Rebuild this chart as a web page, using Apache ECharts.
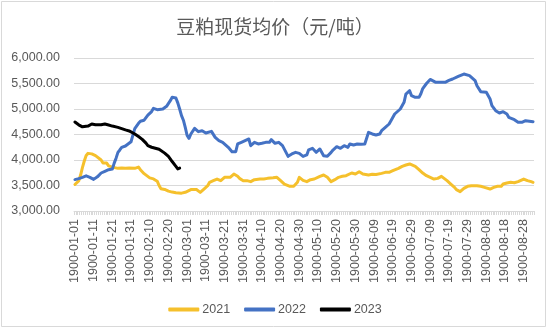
<!DOCTYPE html>
<html>
<head>
<meta charset="utf-8">
<script src="https://cdn.jsdelivr.net/npm/echarts@6/dist/echarts.min.js"></script>
<style>
html,body{margin:0;padding:0;background:#fff;}
#chart{width:550px;height:330px;}
</style>
</head>
<body>
<div id="chart"></div>
<script>
// Excel-style 1900 calendar (includes fictitious 1900-02-29)
const monthLengths = [31, 29, 31, 30, 31, 30, 31, 31, 31];
const dayCount = 246;
const categories = [];
(function () {
  let m = 0, d = 1;
  for (let i = 0; i < dayCount; i++) {
    categories.push('1900-' + String(m + 1).padStart(2, '0') + '-' + String(d).padStart(2, '0'));
    d++;
    if (d > monthLengths[m]) { d = 1; m++; }
  }
})();

const yTicks = [3000, 3500, 4000, 4500, 5000, 5500, 6000];

const days2021 = [0,2,3,4,5,6,7,9,11,12,14,15,16,17,18,20,21,23,25,27,29,30,32,34,35,37,38,40,42,44,45,46,48,50,52,54,55,57,58,59,60,62,63,65,67,69,71,72,74,76,78,80,81,83,85,87,88,90,92,94,96,97,99,101,103,104,106,108,110,112,113,115,117,119,120,121,122,124,126,128,129,131,133,135,137,138,139,141,143,145,146,148,150,152,154,155,157,159,161,162,164,166,168,170,171,173,175,177,179,180,182,184,186,188,190,192,194,196,197,199,201,203,204,206,208,210,212,213,215,217,219,220,222,224,226,228,229,231,233,235,237,238,240,242,244,245];
const vals2021 = [3520,3590,3700,3850,3980,4090,4130,4120,4085,4055,4000,3940,3905,3940,3885,3860,3842,3836,3842,3836,3842,3823,3836,3861,3810,3732,3694,3649,3629,3584,3500,3436,3423,3390,3371,3358,3378,3350,3380,3366,3333,3420,3400,3420,3366,3431,3497,3562,3595,3627,3595,3660,3693,3660,3725,3680,3640,3595,3595,3575,3614,3595,3627,3627,3640,3660,3650,3660,3595,3529,3497,3484,3484,3562,3660,3680,3600,3575,3614,3627,3660,3680,3706,3660,3575,3549,3614,3660,3680,3693,3706,3745,3725,3771,3725,3693,3706,3719,3715,3725,3738,3758,3758,3791,3810,3837,3876,3902,3922,3922,3876,3810,3745,3693,3660,3627,3640,3680,3660,3595,3529,3464,3418,3379,3444,3484,3497,3497,3497,3484,3464,3444,3431,3464,3484,3484,3529,3549,3562,3555,3575,3614,3627,3595,3575,3562];

const days2022 = [0,2,4,6,7,8,10,12,14,16,18,20,21,22,23,24,25,27,28,30,31,32,34,35,37,39,41,42,44,45,47,49,51,52,53,54,55,56,57,58,59,60,61,62,64,66,68,70,71,73,75,77,79,80,82,84,86,87,89,91,93,94,95,96,98,100,102,104,105,107,109,111,112,114,116,118,120,122,124,125,127,129,131,133,135,137,138,140,142,144,146,147,149,151,153,155,156,157,159,161,163,164,166,168,169,171,172,174,176,177,179,180,182,184,185,186,188,190,193,196,198,200,202,205,208,209,211,214,215,217,220,222,223,225,227,229,231,232,235,237,239,241,242,245];
const vals2022 = [3616,3635,3660,3690,3694,3660,3620,3670,3745,3778,3810,3823,3939,4036,4150,4197,4248,4274,4261,4358,4487,4616,4720,4760,4780,4880,4950,5013,4987,4967,5000,5052,5163,5230,5240,5215,5120,5000,4869,4780,4640,4480,4425,4510,4621,4556,4575,4529,4556,4562,4444,4379,4346,4314,4248,4163,4163,4314,4346,4379,4412,4280,4248,4346,4314,4327,4346,4346,4399,4327,4346,4281,4314,4072,4118,4150,4130,4070,4100,4200,4229,4150,4216,4085,4072,4150,4196,4261,4229,4281,4248,4314,4294,4314,4310,4314,4425,4542,4510,4490,4510,4575,4640,4706,4771,4902,4922,5000,5131,5294,5359,5261,5229,5229,5300,5400,5500,5580,5523,5523,5523,5560,5588,5640,5686,5706,5654,5556,5457,5340,5327,5196,5065,4967,4922,4948,4902,4837,4791,4739,4739,4771,4752,4752];

const days2023 = [0,2,4,5,7,9,11,12,14,16,18,20,21,23,25,27,29,30,32,34,36,38,39,41,43,45,46,48,50,52,54,55,56];
const vals2023 = [4745,4690,4650,4625,4665,4705,4690,4720,4690,4705,4685,4665,4650,4640,4615,4590,4570,4545,4510,4460,4405,4330,4280,4250,4230,4210,4185,4135,4070,3970,3875,3825,3840];

const seriesNames = ['2021', '2022', '2023'];
const seriesColors = ['#F5C02C', '#4472C4', '#000000'];
const titleText = '豆粕现货均价（元/吨）';

function pairs(ds, vs) { return ds.map((d, i) => [d, vs[i]]); }
function fmtNum(v) {
  const s = Math.round(v).toString().replace(/\B(?=(\d{3})+(?!\d))/g, ',');
  return s + '.00';
}

const chart = echarts.init(document.getElementById('chart'), null, {renderer: 'canvas'});
const labelFont = 'Liberation Sans, Arial, sans-serif';
const dataSets = [pairs(days2021, vals2021), pairs(days2022, vals2022), pairs(days2023, vals2023)];

chart.setOption({
  animation: false,
  backgroundColor: '#fff',
  title: {
    text: titleText,
    left: 'center',
    top: 12,
    textStyle: {fontFamily: 'Noto Sans CJK SC', fontSize: 19, fontWeight: 'normal', color: '#595959'}
  },
  legend: {
    data: seriesNames,
    bottom: 9,
    left: 'center',
    icon: 'roundRect',
    itemWidth: 31,
    itemHeight: 4,
    itemGap: 14,
    textStyle: {fontFamily: labelFont, fontSize: 12.5, color: '#595959', padding: [0, 0, 0, -2]}
  },
  grid: {left: 74, right: 16, top: 58, bottom: 119, containLabel: false},
  xAxis: {
    type: 'category',
    data: categories,
    boundaryGap: true,
    axisLine: {show: true, lineStyle: {color: '#d9d9d9', width: 1}},
    axisTick: {show: true, interval: 0, length: 4, lineStyle: {color: '#d9d9d9'}},
    axisLabel: {interval: 9, rotate: 90, margin: 8, fontFamily: labelFont, fontSize: 12.5, color: '#595959'},
    splitLine: {show: false}
  },
  yAxis: {
    type: 'value',
    min: yTicks[0],
    max: yTicks[yTicks.length - 1],
    interval: 500,
    axisLine: {show: false},
    axisTick: {show: false},
    axisLabel: {margin: 14, fontFamily: labelFont, fontSize: 12.5, color: '#595959', formatter: fmtNum},
    splitLine: {lineStyle: {color: '#d9d9d9', width: 1}}
  },
  series: seriesNames.map((n, i) => ({
    name: n,
    type: 'line',
    data: dataSets[i],
    symbol: 'none',
    smooth: false,
    color: seriesColors[i],
    lineStyle: {width: 3, color: seriesColors[i], cap: 'round', join: 'round'},
    z: 2 + i
  })),
  graphic: [{
    type: 'rect',
    shape: {x: 1.5, y: 1.5, width: 544, height: 325},
    style: {fill: 'none', stroke: '#d9d9d9', lineWidth: 1},
    silent: true
  }]
});
</script>
</body>
</html>
